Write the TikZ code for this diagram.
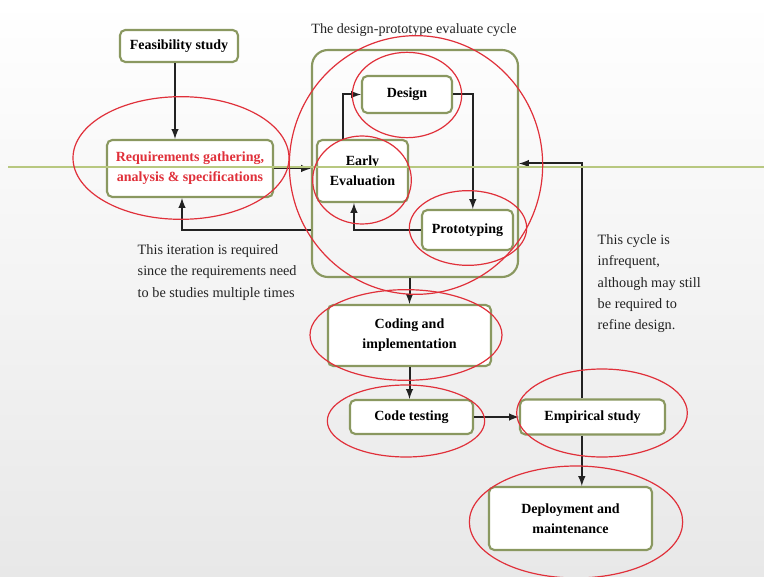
\documentclass[tikz,border=0pt]{standalone}
\usepackage{fontspec}
\setmainfont{Liberation Serif}
\usetikzlibrary{arrows}

\definecolor{boxgreen}{HTML}{8A9860}
\definecolor{linegreen}{HTML}{B8C880}
\definecolor{penred}{HTML}{E0303A}
\definecolor{inkgray}{HTML}{222222}

\tikzset{
  stage/.style={draw=boxgreen, line width=1.6pt, rounded corners=4pt, fill=white,
    font=\fontsize{10.5}{15}\selectfont\bfseries, align=center, inner sep=2pt},
  flow/.style={->, >=latex, draw=inkgray, line width=1.5pt},
  note/.style={font=\fontsize{10.7}{16}\selectfont, align=left, text=inkgray},
  annot/.style={draw=penred, line width=0.9pt}
}

\begin{document}
\begin{tikzpicture}[x=0.75pt, y=-0.75pt]
%      \draw [help lines] (0,0) grid[step=50] (764,577);
      \shade [top color=white, bottom color=gray!18] (0,0) rectangle (764,577);
      \useasboundingbox (0,0) rectangle (764,577);

      % outer box of the cycle
      \node [draw=boxgreen, line width=1.6pt, rounded corners=12pt, minimum width=154.5pt, minimum height=170.25pt] (cycle) at (415,163.5) {};
      \node [font=\fontsize{10.6}{12}\selectfont, text=inkgray] (cycletitle) at (414,30) {The design-prototype evaluate cycle};

      \node [stage, minimum width=88.5pt, minimum height=24pt] (feas) at (179,46) {Feasibility study};
      \node [stage, minimum width=124.5pt, minimum height=42.75pt, text=penred] (req) at (190,168.5) {Requirements gathering,\\analysis \& specifications};
      \node [stage, minimum width=67.5pt, minimum height=27.75pt] (design) at (407,94.5) {Design};
      \node [stage, minimum width=68.25pt, minimum height=46.5pt] (early) at (362.5,171) {Early\\Evaluation};
      \node [stage, minimum width=68.25pt, minimum height=30pt] (proto) at (467.5,230) {Prototyping};
      \node [stage, minimum width=122.25pt, minimum height=45.75pt] (coding) at (409.5,335.5) {Coding and\\implementation};
      \node [stage, minimum width=92.25pt, minimum height=25.5pt] (testing) at (411.5,417) {Code testing};
      \node [stage, minimum width=108.75pt, minimum height=26.25pt] (empirical) at (592.5,417) {Empirical study};
      \node [stage, minimum width=122.25pt, minimum height=47.25pt] (deploy) at (570.5,518.5) {Deployment and\\maintenance};

      \node [note, anchor=north west] (iternote) at (133,240) {This iteration is required\\since the requirements need\\to be studies multiple times};
      \node [note, anchor=north west] (cyclenote) at (593,230) {This cycle is\\infrequent,\\although may still\\be required to\\refine design.};

      % connectors
      \draw [flow] ([xshift=-3pt]feas.south) -- ([xshift=-3pt]feas.south |- req.north);
      \draw [flow] (req.east) -- (cycle.west |- req.east);
      \draw [flow] (proto.west -| cycle.west) -| ([xshift=-6pt]req.south);
      \draw [flow] ([xshift=-14.6pt]early.north) |- (design.west);
      \draw [flow] (design.east) -| ([xshift=4pt]proto.north);
      \draw [flow] (proto.west) -| ([xshift=-6.4pt]early.south);
      \draw [flow] (coding.north |- cycle.south) -- (coding.north);
      \draw [flow] (coding.south) -- (coding.south |- testing.north);
      \draw [flow] (testing.east) -- (empirical.west);
      \draw [flow] ([xshift=-8pt]empirical.south) -- ([xshift=-8pt]empirical.south |- deploy.north);
      \draw [flow] ([xshift=-8pt]empirical.north) |- (cycle.east);

      % horizontal line across the slide
      \draw [linegreen, line width=1.5pt] (8,167) -- (764,167);

      % red pen marks
      \draw [annot] (181,158) ellipse [x radius=81pt, y radius=46pt];
      \draw [annot] (416,165) ellipse [x radius=95pt, y radius=97pt];
      \draw [annot] (407,95) ellipse [x radius=41pt, y radius=32pt];
      \draw [annot] (362,180) ellipse [x radius=37pt, y radius=33pt];
      \draw [annot] (468,228) ellipse [x radius=44pt, y radius=28pt];
      \draw [annot] (406,335) ellipse [x radius=72pt, y radius=34pt];
      \draw [annot] (406,421) ellipse [x radius=59pt, y radius=27pt];
      \draw [annot] (602,413) ellipse [x radius=64pt, y radius=33pt];
      \draw [annot] (576,522) ellipse [x radius=80pt, y radius=42pt];
\end{tikzpicture}
\end{document}
